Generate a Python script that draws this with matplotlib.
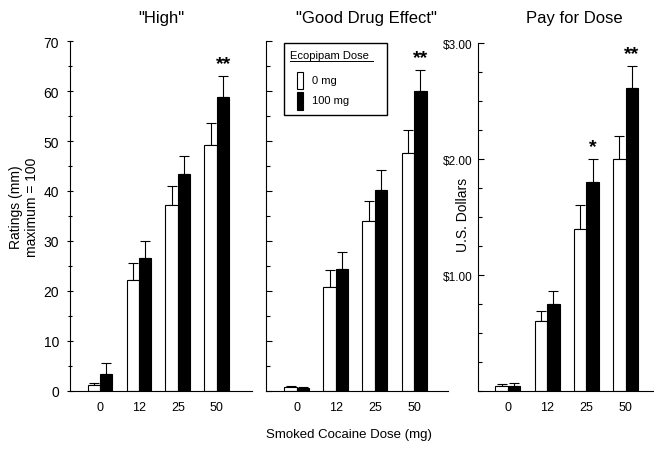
import matplotlib
matplotlib.use("Agg")
import matplotlib.pyplot as plt
import numpy as np
from matplotlib.patches import Rectangle
from matplotlib.ticker import MultipleLocator, FixedLocator

plt.rcParams['font.family'] = ['Liberation Sans', 'DejaVu Sans']

doses = ["0", "12", "25", "50"]

# "High" ratings
high_0mg = [1.2, 22.2, 37.2, 49.2]
high_0mg_err = [1.7, 25.7, 41.1, 53.6]
high_100mg = [3.5, 26.7, 43.4, 58.9]
high_100mg_err = [5.7, 30.0, 47.1, 63.0]

# "Good Drug Effect" ratings
good_0mg = [0.8, 20.8, 34.0, 47.7]
good_0mg_err = [1.0, 24.3, 38.1, 52.2]
good_100mg = [0.6, 24.5, 40.2, 60.0]
good_100mg_err = [0.8, 27.9, 44.2, 64.2]

# Pay for dose (US$)
pay_0mg = [0.04, 0.60, 1.40, 2.00]
pay_0mg_err = [0.06, 0.69, 1.60, 2.20]
pay_100mg = [0.04, 0.75, 1.80, 2.61]
pay_100mg_err = [0.07, 0.86, 2.00, 2.80]

# significance markers: dose index -> text
stars_high = {3: "**"}
stars_good = {3: "**"}
stars_pay = {2: "*", 3: "**"}

W, H = 654, 452
fig = plt.figure(figsize=(W / 100, H / 100), dpi=100)


def px_axes(x0, x1, ytop, ybot):
    return fig.add_axes([x0 / W, (H - ybot) / H, (x1 - x0) / W, (ybot - ytop) / H])


def draw_panel(ax, v0, e0, v1, e1, stars, ymax):
    x = np.arange(len(doses))
    bw = 0.32
    ax.bar(x - bw / 2, v0, width=bw, color='white', edgecolor='black', linewidth=0.8, zorder=2)
    ax.bar(x + bw / 2, v1, width=bw, color='black', edgecolor='black', linewidth=0.8, zorder=2)
    up0 = np.array(e0) - np.array(v0)
    up1 = np.array(e1) - np.array(v1)
    ax.errorbar(x - bw / 2, v0, yerr=[np.zeros(len(x)), up0], fmt='none', ecolor='black',
                elinewidth=0.8, capsize=3.5, capthick=0.8, zorder=1)
    ax.errorbar(x + bw / 2, v1, yerr=[np.zeros(len(x)), up1], fmt='none', ecolor='black',
                elinewidth=0.8, capsize=3.5, capthick=0.8, zorder=1)
    for i, s in stars.items():
        ax.annotate(s, (x[i] + bw / 2, e1[i]), xytext=(0, 3), textcoords='offset points',
                    ha='center', va='bottom', fontsize=14, fontweight='bold')
    ax.set_xticks(x)
    ax.set_xticklabels(doses, fontsize=9)
    ax.tick_params(axis='x', length=0, pad=7)
    ax.tick_params(axis='y', which='major', direction='in', length=4, width=0.8, labelsize=10, pad=6)
    ax.tick_params(axis='y', which='minor', direction='in', length=3, width=0.8)
    ax.spines['top'].set_visible(False)
    ax.spines['right'].set_visible(False)
    ax.spines['left'].set_linewidth(0.8)
    ax.spines['bottom'].set_linewidth(0.8)
    ax.set_ylim(0, ymax)


ax1 = px_axes(70, 252, 42, 392)
draw_panel(ax1, high_0mg, high_0mg_err, high_100mg, high_100mg_err, stars_high, 70)
ax1.set_xlim(-0.77, 3.9)
ax1.yaxis.set_major_locator(MultipleLocator(10))
ax1.yaxis.set_minor_locator(MultipleLocator(5))
ax1.tick_params(axis='y', which='both', direction='inout')

ax2 = px_axes(266, 448, 42, 392)
draw_panel(ax2, good_0mg, good_0mg_err, good_100mg, good_100mg_err, stars_good, 70)
ax2.set_xlim(-0.79, 3.87)
ax2.yaxis.set_major_locator(MultipleLocator(10))
ax2.yaxis.set_minor_locator(MultipleLocator(5))
ax2.set_yticklabels([])

ax3 = px_axes(478, 654, 44, 392)
draw_panel(ax3, pay_0mg, pay_0mg_err, pay_100mg, pay_100mg_err, stars_pay, 3.0)
ax3.set_xlim(-0.76, 3.72)
ax3.yaxis.set_major_locator(FixedLocator([1, 2, 3]))
ax3.set_yticklabels(["$1.00", "$2.00", "$3.00"])
ax3.yaxis.set_minor_locator(MultipleLocator(0.25))
ax3.tick_params(axis='y', labelsize=8.5, pad=4)

# titles
fig.text(161 / W, 1 - 18 / H, '"High"', ha='center', va='center', fontsize=12)
fig.text(366 / W, 1 - 18 / H, '"Good Drug Effect"', ha='center', va='center', fontsize=12)
fig.text(574 / W, 1 - 18 / H, 'Pay for Dose', ha='center', va='center', fontsize=12)

# axis labels
fig.text(24 / W, 1 - 207 / H, 'Ratings (mm)\nmaximum = 100', rotation=90, ha='center',
         va='center', fontsize=10, linespacing=1.15)
fig.text(463 / W, 1 - 215 / H, 'U.S. Dollars', rotation=90, ha='center', va='center', fontsize=10)
fig.text(349 / W, 1 - 435 / H, 'Smoked Cocaine Dose (mg)', ha='center', va='center', fontsize=9.5)

# legend box in panel 2
tr = ax2.transAxes
ax2.add_patch(Rectangle((0.099, 0.79), 0.566, 0.205, transform=tr, fill=False,
                        edgecolor='black', linewidth=1.0, clip_on=False, zorder=5))
ax2.text(0.13, 0.96, 'Ecopipam Dose', transform=tr, fontsize=8, ha='left', va='center')
ax2.plot([0.13, 0.59], [0.942, 0.942], transform=tr, color='black', linewidth=0.7)
ax2.add_patch(Rectangle((0.17, 0.862), 0.035, 0.05, transform=tr, facecolor='white',
                        edgecolor='black', linewidth=0.8))
ax2.add_patch(Rectangle((0.17, 0.803), 0.035, 0.05, transform=tr, facecolor='black',
                        edgecolor='black', linewidth=0.8))
ax2.text(0.25, 0.888, '0 mg', transform=tr, fontsize=8, ha='left', va='center')
ax2.text(0.25, 0.830, '100 mg', transform=tr, fontsize=8, ha='left', va='center')

fig.savefig('out.png', dpi=100)
